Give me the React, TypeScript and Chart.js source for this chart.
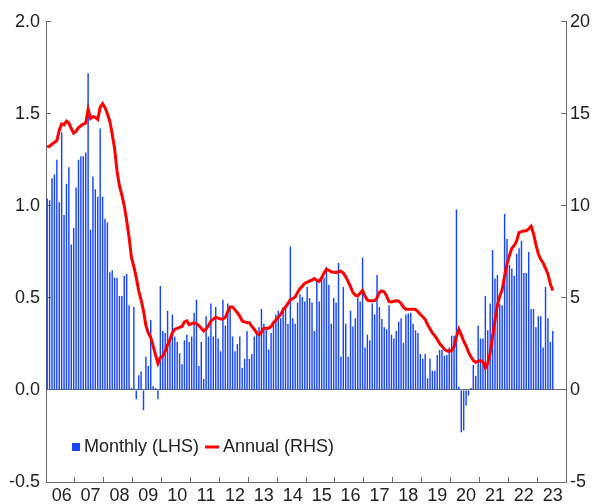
import React, { useEffect, useRef } from 'react';
import { Chart, registerables } from 'chart.js';

Chart.register(...registerables);

// ---- data ----
const YEARS = ['06', '07', '08', '09', '10', '11', '12', '13', '14', '15', '16', '17', '18', '19', '20', '21', '22', '23'];
const MONTHS = ['Jan', 'Feb', 'Mar', 'Apr', 'May', 'Jun', 'Jul', 'Aug', 'Sep', 'Oct', 'Nov', 'Dec'];
const CATEGORIES: string[] = YEARS.flatMap((y) => MONTHS.map((m) => `${m}-${y}`));

// Monthly growth, % (LHS), Jan 2006 – Jul 2023
const MONTHLY: number[] = [
  1.04, 1.03, 1.15, 1.17, 1.25, 1.02, 1.40, 0.95, 1.12, 1.21, 0.79, 0.88,
  1.10, 1.25, 1.27, 1.27, 1.29, 1.72, 0.87, 1.16, 1.09, 1.05, 1.42, 1.05,
  0.93, 0.91, 0.64, 0.65, 0.61, 0.61, 0.51, 0.51, 0.62, 0.63, 0.46, 0.01,
  0.45, -0.05, 0.08, 0.10, -0.11, 0.18, 0.13, 0.38, 0.02, 0.01, -0.05, 0.565,
  0.32, 0.31, 0.43, 0.27, 0.41, 0.29, 0.26, 0.20, 0.14, 0.27, 0.30, 0.26,
  0.29, 0.42, 0.49, 0.13, 0.26, 0.06, 0.40, 0.29, 0.47, 0.29, 0.45, 0.28,
  0.21, 0.49, 0.35, 0.47, 0.45, 0.29, 0.21, 0.25, 0.29, 0.12, 0.17, 0.32,
  0.17, 0.195, 0.29, 0.32, 0.34, 0.44, 0.36, 0.33, 0.22, 0.31, 0.375, 0.41,
  0.43, 0.39, 0.45, 0.46, 0.36, 0.78, 0.39, 0.36, 0.475, 0.52, 0.505, 0.48,
  0.56, 0.50, 0.475, 0.32, 0.59, 0.48, 0.60, 0.61, 0.67, 0.57, 0.36, 0.50,
  0.475, 0.69, 0.18, 0.56, 0.36, 0.18, 0.43, 0.345, 0.39, 0.50, 0.48, 0.72,
  0.23, 0.30, 0.27, 0.47, 0.41, 0.625, 0.45, 0.385, 0.34, 0.33, 0.46, 0.30,
  0.28, 0.32, 0.37, 0.39, 0.255, 0.41, 0.415, 0.42, 0.36, 0.325, 0.31, 0.195,
  0.17, 0.195, 0.063, 0.17, 0.105, 0.105, 0.19, 0.217, 0.217, 0.186, 0.19, 0.23,
  0.294, 0.294, 0.98, 0.018, -0.23, -0.22, -0.085, -0.03, 0.01, 0.135, 0.077, 0.35,
  0.28, 0.28, 0.51, 0.325, 0.47, 0.76, 0.605, 0.625, 0.466, 0.46, 0.957, 0.82,
  0.68, 0.66, 0.62, 0.74, 0.77, 0.81, 0.635, 0.635, 0.75, 0.44, 0.44, 0.34,
  0.40, 0.40, 0.23, 0.56, 0.39, 0.26, 0.32,
];

// Annual growth, % (RHS)
const ANNUAL: number[] = [
  13.2, 13.25, 13.35, 13.45, 13.55, 14.1, 14.45, 14.4, 14.6, 14.5, 14.2, 13.95,
  14.05, 14.25, 14.35, 14.45, 14.5, 15.25, 14.75, 14.85, 14.8, 14.7, 15.35, 15.55,
  15.35, 15.0, 14.6, 13.9, 13.1, 11.9, 11.1, 10.6, 10.0, 9.2, 8.3, 7.2,
  6.7, 6.1, 5.4, 4.9, 4.3, 3.5, 3.1, 2.85, 2.4, 1.9, 1.45, 1.75,
  1.85, 2.1, 2.45, 2.75, 3.1, 3.3, 3.35, 3.4, 3.45, 3.7, 3.75, 3.55,
  3.6, 3.65, 3.6, 3.5, 3.35, 3.2, 3.3, 3.5, 3.75, 3.85, 3.95, 3.9,
  3.85, 3.85, 3.95, 4.25, 4.5, 4.5, 4.35, 4.2, 4.0, 3.75, 3.7, 3.65,
  3.65, 3.45, 3.3, 3.1, 3.0, 3.15, 3.35, 3.35, 3.35, 3.45, 3.65, 3.8,
  3.95, 4.1, 4.35, 4.5, 4.7, 4.9, 4.97, 5.05, 5.3, 5.5, 5.65, 5.8,
  5.85, 5.92, 5.97, 6.05, 5.95, 5.9, 6.1, 6.35, 6.55, 6.5, 6.42, 6.4,
  6.37, 6.42, 6.45, 6.35, 6.15, 5.9, 5.6, 5.3, 5.15, 5.1, 5.25, 5.4,
  5.1, 4.88, 4.85, 4.84, 4.86, 5.0, 5.3, 5.38, 5.33, 5.1, 4.8, 4.78,
  4.82, 4.84, 4.82, 4.7, 4.5, 4.39, 4.39, 4.39, 4.39, 4.38, 4.25, 4.1,
  3.98, 3.83, 3.55, 3.32, 3.1, 2.95, 2.75, 2.52, 2.38, 2.2, 2.13, 2.09,
  2.15, 2.35, 2.9, 3.3, 3.0, 2.65, 2.4, 2.05, 1.8, 1.6, 1.5, 1.55,
  1.6, 1.52, 1.2, 1.45, 2.0, 2.9, 3.8, 4.6, 5.1, 5.45, 6.2, 6.85,
  7.3, 7.7, 7.85, 8.1, 8.55, 8.6, 8.63, 8.65, 8.75, 8.9, 8.5, 7.9,
  7.4, 7.1, 6.9, 6.6, 6.3, 5.75, 5.4,
];

const SERIES_LABELS = ['Monthly (LHS)', 'Annual (RHS)'];
const LEFT_RANGE = [-0.5, 2.0, 0.5];
const RIGHT_RANGE = [-5, 20, 5];

// ---- styles ----
const BLUE = '#1846ff';
const RED = '#ff0000';
const TEXT = '#222222';
const AXIS = '#6a6a6a';
const FONT = "'Liberation Sans', Arial, sans-serif";

const legendPlugin = {
  id: 'insideLegend',
  afterDraw(chart: any) {
    const ctx = chart.ctx as CanvasRenderingContext2D;
    const yMid = 447;
    ctx.save();
    ctx.font = `18px ${FONT}`;
    ctx.textBaseline = 'middle';
    ctx.textAlign = 'left';
    ctx.fillStyle = BLUE;
    ctx.fillRect(72, yMid - 4, 8, 8);
    ctx.fillStyle = TEXT;
    let x = 84;
    ctx.fillText(SERIES_LABELS[0], x, yMid);
    x += ctx.measureText(SERIES_LABELS[0]).width + 6;
    ctx.strokeStyle = RED;
    ctx.lineWidth = 3;
    ctx.beginPath();
    ctx.moveTo(x, yMid);
    ctx.lineTo(x + 14, yMid);
    ctx.stroke();
    x += 18;
    ctx.fillText(SERIES_LABELS[1], x, yMid);
    ctx.restore();
  },
};

export default function App() {
  const canvasRef = useRef<HTMLCanvasElement | null>(null);

  useEffect(() => {
    document.body.style.margin = '0';
    const canvas = canvasRef.current;
    if (!canvas) return;
    Chart.defaults.font.family = FONT;
    Chart.defaults.font.size = 18;
    Chart.defaults.color = TEXT;

    const chart = new Chart(canvas, {
      type: 'bar',
      data: {
        labels: CATEGORIES,
        datasets: [
          {
            type: 'line',
            label: SERIES_LABELS[1],
            data: ANNUAL,
            yAxisID: 'y1',
            borderColor: RED,
            backgroundColor: RED,
            borderWidth: 3,
            pointRadius: 0,
            tension: 0,
            order: 0,
          } as any,
          {
            type: 'bar',
            label: SERIES_LABELS[0],
            data: MONTHLY,
            yAxisID: 'y',
            backgroundColor: BLUE,
            borderWidth: 0,
            categoryPercentage: 1,
            barPercentage: 0.6,
            order: 1,
          } as any,
        ],
      },
      options: {
        responsive: false,
        animation: false,
        devicePixelRatio: 1,
        layout: { padding: { top: 20, left: 0, right: 0, bottom: 0 } },
        plugins: { legend: { display: false }, tooltip: { enabled: false }, title: { display: false } },
        scales: {
          x: {
            type: 'category',
            offset: true,
            border: { display: true, color: AXIS, width: 1 },
            grid: {
              offset: true,
              drawOnChartArea: false,
              drawTicks: true,
              tickLength: -5,
              tickColor: (c: any) => (c.index % 12 === 0 ? AXIS : 'rgba(0,0,0,0)'),
            },
            ticks: {
              autoSkip: false,
              maxRotation: 0,
              minRotation: 0,
              padding: 8,
              color: TEXT,
              font: { size: 18, family: FONT },
              callback: (_v: any, i: number) => (i % 12 === 6 ? YEARS[Math.floor(i / 12)] : ''),
            },
            afterFit: (s: any) => {
              s.height = 22;
            },
          },
          y: {
            type: 'linear',
            position: 'left',
            min: LEFT_RANGE[0],
            max: LEFT_RANGE[1],
            border: { display: true, color: AXIS, width: 1 },
            grid: {
              drawOnChartArea: true,
              drawTicks: true,
              tickLength: -5,
              color: (c: any) => (c.tick && c.tick.value === 0 ? AXIS : 'rgba(0,0,0,0)'),
              tickColor: AXIS,
            },
            ticks: {
              stepSize: LEFT_RANGE[2],
              padding: 11,
              color: TEXT,
              font: { size: 18, family: FONT },
              callback: (v: any) => Number(v).toFixed(1),
            },
            afterFit: (s: any) => {
              s.width = 46;
            },
          },
          y1: {
            type: 'linear',
            position: 'right',
            min: RIGHT_RANGE[0],
            max: RIGHT_RANGE[1],
            border: { display: true, color: AXIS, width: 1 },
            grid: {
              drawOnChartArea: false,
              drawTicks: true,
              tickLength: -5,
              tickColor: AXIS,
            },
            ticks: {
              stepSize: RIGHT_RANGE[2],
              padding: 9,
              color: TEXT,
              font: { size: 18, family: FONT },
              callback: (v: any) => String(v),
            },
            afterFit: (s: any) => {
              s.width = 26;
            },
          },
        },
      },
      plugins: [legendPlugin],
    });

    return () => chart.destroy();
  }, []);

  return (
    <div style={{ position: 'relative', width: 592, height: 504, background: '#fff' }}>
      <canvas ref={canvasRef} width={592} height={504} style={{ width: 592, height: 504, display: 'block' }} />
    </div>
  );
}
